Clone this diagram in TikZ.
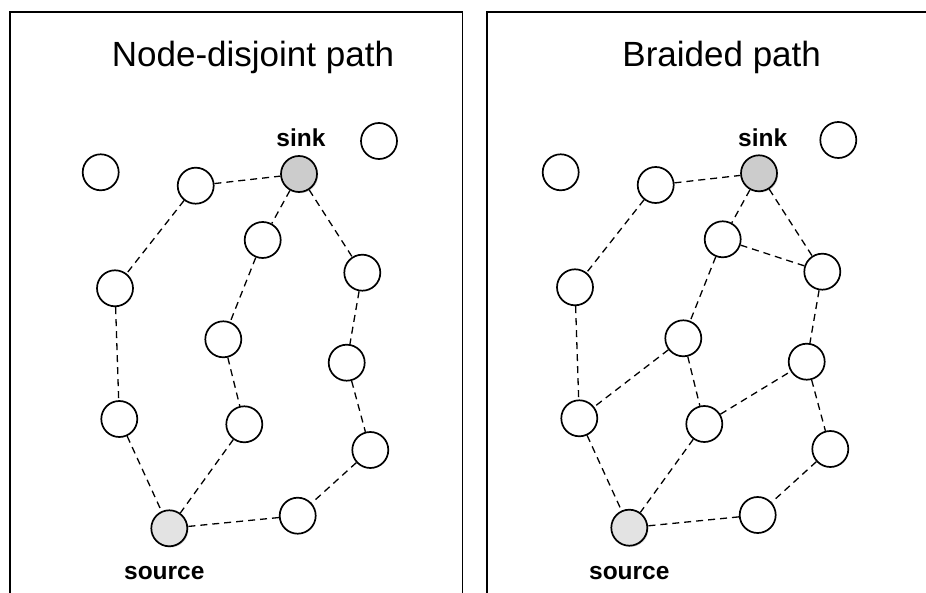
\documentclass[tikz,border=0pt]{standalone}
\usepackage{fontspec}
\setmainfont{Liberation Sans}
\usetikzlibrary{shadows}
\begin{document}
\begin{tikzpicture}[x=1pt,y=-1pt,
  vtx/.style={circle,draw=black,line width=1.7pt,fill=white,minimum size=36pt,inner sep=0pt},
  sinkv/.style={vtx,fill=black!20,drop shadow={shadow xshift=1.2pt,shadow yshift=-1.2pt,opacity=0.3}},
  srcv/.style={vtx,fill=black!11,drop shadow={shadow xshift=1.2pt,shadow yshift=-1.2pt,opacity=0.3}},
  lnk/.style={line width=1.3pt,dash pattern=on 7pt off 5pt},
  frame/.style={line width=1.6pt,draw=black},
  ttl/.style={anchor=base,font=\fontsize{35}{40}\selectfont},
  lbl/.style={anchor=base,font=\bfseries\fontsize{24.5}{28}\selectfont}]
\useasboundingbox (0,0) rectangle (926,593);
% frames
\draw[frame] (10,600) -- (10,12.3) -- (462.5,12.3) -- (462.5,600);
\draw[frame] (487,600) -- (487,12.3) -- (940,12.3);
% ---------- left panel ----------
\node[ttl] (t1) at (253,67) {Node-disjoint path};
\node[vtx] (la) at (100.7,172.3) {};
\node[vtx] (lb) at (379,141) {};
\node[vtx] (l1) at (195.7,185.7) {};
\node[sinkv] (lsink) at (299,174) {};
\node[vtx] (l2) at (262.7,240) {};
\node[vtx] (l3) at (362.3,272.7) {};
\node[vtx] (l4) at (115,288.3) {};
\node[vtx] (l5) at (223.3,339.3) {};
\node[vtx] (l6) at (346.7,362.7) {};
\node[vtx] (l7) at (119.3,419) {};
\node[vtx] (l8) at (244.3,424.3) {};
\node[vtx] (l9) at (370.3,450) {};
\node[srcv] (lsrc) at (169.3,528.3) {};
\node[vtx] (l10) at (297.7,515.7) {};
\node[lbl] (lsinkl) at (301,146.7) {sink};
\node[lbl] (lsrcl) at (164.3,579.3) {source};
\draw[lnk] (l1) -- (lsink);
\draw[lnk] (l1) -- (l4);
\draw[lnk] (l4) -- (l7);
\draw[lnk] (l7) -- (lsrc);
\draw[lnk] (lsink) -- (l2);
\draw[lnk] (l2) -- (l5);
\draw[lnk] (l5) -- (l8);
\draw[lnk] (l8) -- (lsrc);
\draw[lnk] (lsink) -- (l3);
\draw[lnk] (l3) -- (l6);
\draw[lnk] (l6) -- (l9);
\draw[lnk] (l9) -- (l10);
\draw[lnk] (l10) -- (lsrc);
% ---------- right panel ----------
\node[ttl] (t2) at (721.7,67) {Braided path};
\node[vtx] (ra) at (560.7,172.3) {};
\node[vtx] (rb) at (838.3,140) {};
\node[vtx] (r1) at (655.7,185) {};
\node[sinkv] (rsink) at (759,173.3) {};
\node[vtx] (r2) at (722.7,239.3) {};
\node[vtx] (r3) at (822.3,271.7) {};
\node[vtx] (r4) at (575,287.3) {};
\node[vtx] (r5) at (683.3,338.3) {};
\node[vtx] (r6) at (806.7,361.7) {};
\node[vtx] (r7) at (579.3,418.3) {};
\node[vtx] (r8) at (704.3,424) {};
\node[vtx] (r9) at (830.3,449) {};
\node[srcv] (rsrc) at (629.3,527.7) {};
\node[vtx] (r10) at (757.7,515) {};
\node[lbl] (rsinkl) at (762.7,146.7) {sink};
\node[lbl] (rsrcl) at (629.3,579.3) {source};
\draw[lnk] (r1) -- (rsink);
\draw[lnk] (r1) -- (r4);
\draw[lnk] (r4) -- (r7);
\draw[lnk] (r7) -- (rsrc);
\draw[lnk] (rsink) -- (r2);
\draw[lnk] (r2) -- (r5);
\draw[lnk] (r5) -- (r8);
\draw[lnk] (r8) -- (rsrc);
\draw[lnk] (rsink) -- (r3);
\draw[lnk] (r3) -- (r6);
\draw[lnk] (r6) -- (r9);
\draw[lnk] (r9) -- (r10);
\draw[lnk] (r10) -- (rsrc);
\draw[lnk] (r2) -- (r3);
\draw[lnk] (r5) -- (r7);
\draw[lnk] (r8) -- (r6);
\end{tikzpicture}
\end{document}
